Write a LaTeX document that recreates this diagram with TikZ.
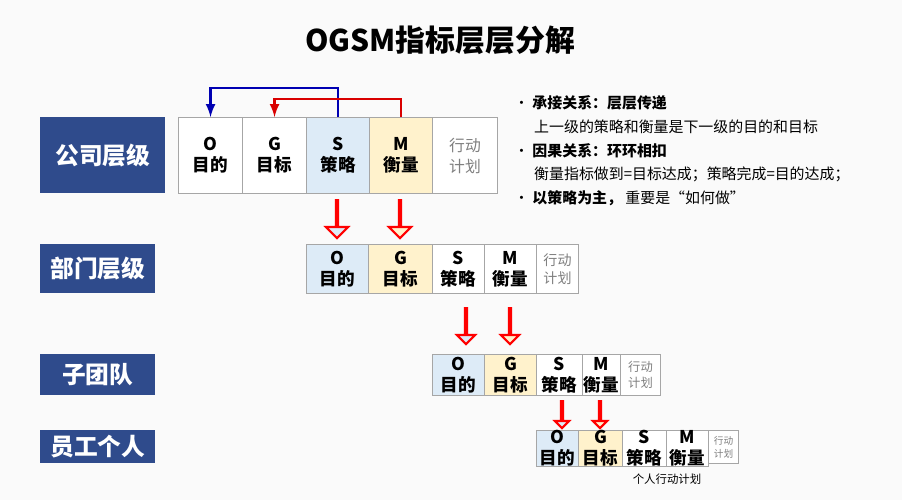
\documentclass[tikz,border=0pt]{standalone}
\usepackage{fontspec}
\setmainfont{Noto Sans CJK SC}
\usetikzlibrary{positioning}
\usetikzlibrary{shapes.arrows}
\def\u{0.02cm}
\definecolor{lvlblue}{HTML}{2F4B8C}
\definecolor{cellblue}{HTML}{DDEBF7}
\definecolor{cellyellow}{HTML}{FFF2CC}
\tikzstyle{level} = [rectangle, fill=lvlblue, text=white, font=\bfseries, anchor=north west, inner sep=0pt]
\tikzstyle{cell} = [rectangle, draw=gray!70, line width=0.6pt, fill=white, anchor=north west, align=center, inner sep=0pt, font=\bfseries]
\tikzstyle{plan} = [cell, text=gray, font=\normalfont]
\tikzstyle{down} = [single arrow, draw=red, line width=1.2pt, shape border rotate=270, single arrow head extend=6*\u, anchor=north, inner sep=0pt]
\tikzstyle{link} = [line width=1.5pt, -latex]

\begin{document}
\begin{tikzpicture}[x=\u, y=-\u]
    \useasboundingbox[fill=gray!4] (0,0) rectangle (902,500);

    % title
    \node[font=\fontsize{17}{20}\selectfont\bfseries] at (440,40) (title) {OGSM指标层层分解};

    % --- level labels ---
    \node[level, minimum width=125*\u, minimum height=76*\u, font=\fontsize{13.5}{16}\selectfont\bfseries] at (40,117) (l1) {公司层级};
    \node[level, minimum width=115*\u, minimum height=49*\u, font=\fontsize{13.5}{16}\selectfont\bfseries] at (40,244) (l2) {部门层级};
    \node[level, minimum width=115*\u, minimum height=41*\u, font=\fontsize{13.5}{16}\selectfont\bfseries] at (40,354) (l3) {子团队};
    \node[level, minimum width=115*\u, minimum height=33*\u, font=\fontsize{13.5}{16}\selectfont\bfseries] at (40,430) (l4) {员工个人};

    % --- company row ---
    \begin{scope}[every node/.append style={minimum height=76*\u, font=\fontsize{13}{17}\selectfont\bfseries}]
        \node[cell, minimum width=64*\u] at (178,117) (o1) {O\\目的};
        \node[cell, minimum width=64*\u] at (242,117) (g1) {G\\目标};
        \node[cell, minimum width=63*\u, fill=cellblue] at (306,117) (s1) {S\\策略};
        \node[cell, minimum width=63*\u, fill=cellyellow] at (369,117) (m1) {M\\衡量};
        \node[plan, minimum width=65*\u, font=\fontsize{9}{12}\selectfont] at (432,117) (p1) {行动\\计划};
    \end{scope}

    % S feeds O, M feeds G
    \draw[link, blue!70!black] (s1.north) -- ++(0,-29) -| (o1.north);
    \draw[link, red!85!black] (m1.north) -- ++(0,-18) -| (g1.north);

    % --- department row ---
    \begin{scope}[every node/.append style={minimum height=49*\u, font=\fontsize{10}{12}\selectfont\bfseries}]
        \node[cell, minimum width=62*\u, fill=cellblue] at (306,244) (o2) {O\\目的};
        \node[cell, minimum width=64*\u, fill=cellyellow] at (368,244) (g2) {G\\目标};
        \node[cell, minimum width=52*\u] at (432,244) (s2) {S\\策略};
        \node[cell, minimum width=52*\u] at (484,244) (m2) {M\\衡量};
        \node[plan, minimum width=42*\u, font=\fontsize{8}{10}\selectfont] at (536,244) (p2) {行动\\计划};
    \end{scope}

    % --- team row ---
    \begin{scope}[every node/.append style={minimum height=41*\u, font=\fontsize{8}{10}\selectfont\bfseries}]
        \node[cell, minimum width=52*\u, fill=cellblue] at (432,354) (o3) {O\\目的};
        \node[cell, minimum width=52*\u, fill=cellyellow] at (484,354) (g3) {G\\目标};
        \node[cell, minimum width=46*\u] at (536,354) (s3) {S\\策略};
        \node[cell, minimum width=38*\u] at (582,354) (m3) {M\\衡量};
        \node[plan, minimum width=40*\u, font=\fontsize{7}{9}\selectfont] at (620,354) (p3) {行动\\计划};
    \end{scope}

    % --- personal row ---
    \begin{scope}[every node/.append style={minimum height=33*\u, font=\fontsize{5.5}{7.5}\selectfont\bfseries}]
        \node[cell, minimum width=42*\u, fill=cellblue] at (536,430) (o4) {O\\目的};
        \node[cell, minimum width=44*\u, fill=cellyellow] at (578,430) (g4) {G\\目标};
        \node[cell, minimum width=44*\u] at (622,430) (s4) {S\\策略};
        \node[cell, minimum width=42*\u] at (666,430) (m4) {M\\衡量};
        \node[plan, minimum width=30*\u, font=\fontsize{5.5}{7.5}\selectfont] at (708,430) (p4) {行动\\计划};
    \end{scope}
    \node[font=\fontsize{6.5}{8}\selectfont, below=1*\u of s4.south east] (plan4) {个人行动计划};

    % --- down arrows ---
    \node[down, fill=cellblue, minimum height=38*\u, minimum width=22*\u, single arrow head extend=10*\u] at (337,199) (d1s) {};
    \node[down, fill=cellyellow, minimum height=38*\u, minimum width=22*\u, single arrow head extend=10*\u] at (400,199) (d1m) {};
    \node[down, fill=cellblue, minimum height=36*\u, minimum width=16*\u, single arrow head extend=8*\u] at (466,307) (d2s) {};
    \node[down, fill=cellyellow, minimum height=36*\u, minimum width=16*\u, single arrow head extend=8*\u] at (510,307) (d2m) {};
    \node[down, fill=cellblue, minimum height=27*\u, minimum width=11*\u, single arrow head extend=6*\u] at (562,400) (d3s) {};
    \node[down, fill=cellyellow, minimum height=27*\u, minimum width=11*\u, single arrow head extend=6*\u] at (600,400) (d3m) {};

    % --- notes ---
    \begin{scope}[every node/.append style={anchor=west, font=\fontsize{8.5}{10}\selectfont}]
        \node at (508,103) (n1) {\textbullet\ \textbf{承接关系：层层传递}};
        \node at (528,127) (n2) {上一级的策略和衡量是下一级的目的和目标};
        \node at (508,151) (n3) {\textbullet\ \textbf{因果关系：环环相扣}};
        \node at (528,174) (n4) {衡量指标做到=目标达成；策略完成=目的达成；};
        \node at (508,198) (n5) {\textbullet\ \textbf{以策略为主，}\ 重要是“如何做”};
    \end{scope}
\end{tikzpicture}
\end{document}
